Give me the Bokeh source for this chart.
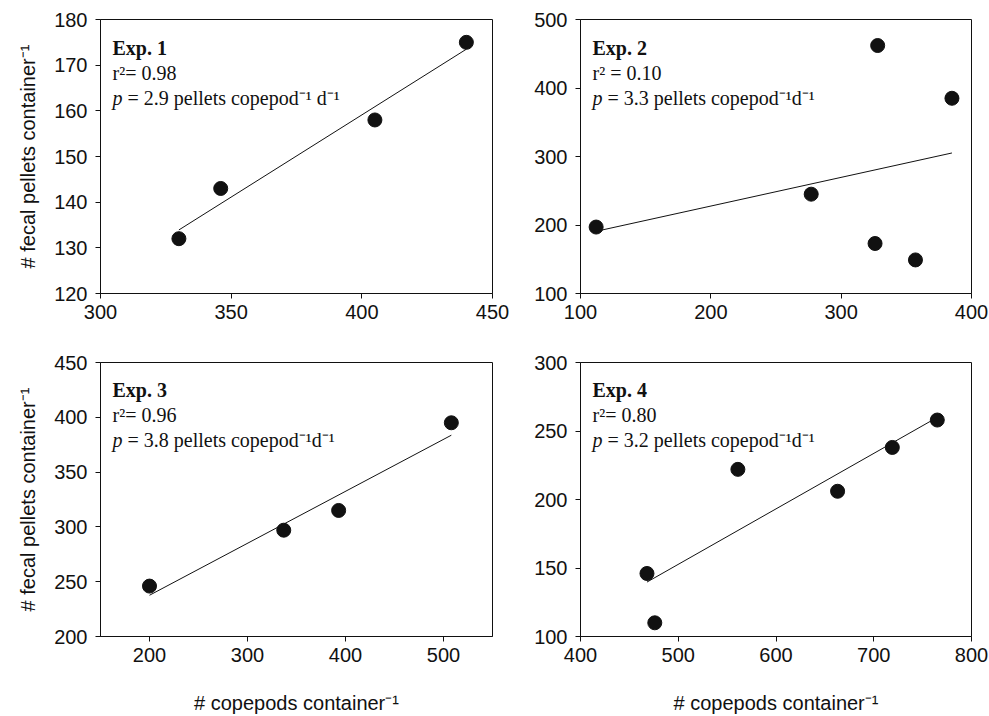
import numpy as np
from bokeh.plotting import figure
from bokeh.layouts import gridplot
from bokeh.models import Label, FixedTicker, Range1d
from bokeh.embed import file_html
from bokeh.resources import INLINE

# ---- data ----
exp1_x = [330, 346, 405, 440]
exp1_y = [132, 143, 158, 175]
exp2_x = [112, 277, 328, 326, 357, 385]
exp2_y = [197, 245, 462, 173, 149, 385]
exp3_x = [200, 337, 393, 508]
exp3_y = [246, 297, 315, 395]
exp4_x = [468, 476, 561, 663, 719, 765]
exp4_y = [146, 110, 222, 206, 238, 258]

titles = ["Exp. 1", "Exp. 2", "Exp. 3", "Exp. 4"]
r2_texts = ["r\u00b2= 0.98", "r\u00b2 = 0.10", "r\u00b2= 0.96", "r\u00b2= 0.80"]
p_texts = ["\u00a0= 2.9 pellets copepod\u207b\u00b9 d\u207b\u00b9",
           "\u00a0= 3.3 pellets copepod\u207b\u00b9d\u207b\u00b9",
           "\u00a0= 3.8 pellets copepod\u207b\u00b9d\u207b\u00b9",
           "\u00a0= 3.2 pellets copepod\u207b\u00b9d\u207b\u00b9"]

x_ranges = [(300, 450), (100, 400), (150, 550), (400, 800)]
y_ranges = [(120, 180), (100, 500), (200, 450), (100, 300)]
x_ticks = [[300, 350, 400, 450], [100, 200, 300, 400], [200, 300, 400, 500], [400, 500, 600, 700, 800]]
y_ticks = [[120, 130, 140, 150, 160, 170, 180], [100, 200, 300, 400, 500],
           [200, 250, 300, 350, 400, 450], [100, 150, 200, 250, 300]]

y_title = "# fecal pellets container\u207b\u00b9"
x_title = "# copepods container\u207b\u00b9"

SANS = "Liberation Sans"
SERIF = "Liberation Serif"
INK = "#111111"


def panel(i, xs, ys, width, height, bl, br, bt, bb, ylab, xlab):
    p = figure(width=width, height=height,
               x_range=Range1d(*x_ranges[i]), y_range=Range1d(*y_ranges[i]),
               min_border_left=bl, min_border_right=br, min_border_top=bt, min_border_bottom=bb,
               output_backend="svg", toolbar_location=None)
    p.xgrid.visible = False
    p.ygrid.visible = False
    p.outline_line_color = INK
    p.outline_line_alpha = 1.0
    p.outline_line_width = 1
    p.background_fill_color = "white"
    p.border_fill_color = "white"
    p.xaxis.ticker = FixedTicker(ticks=x_ticks[i])
    p.yaxis.ticker = FixedTicker(ticks=y_ticks[i])
    for ax in (p.xaxis[0], p.yaxis[0]):
        ax.axis_line_color = INK
        ax.major_tick_line_color = INK
        ax.major_tick_in = 0
        ax.major_tick_out = 5
        ax.minor_tick_line_color = None
        ax.major_label_text_font = SANS
        ax.major_label_text_font_size = "20px"
        ax.major_label_text_color = INK
        ax.axis_label_text_font = SANS
        ax.axis_label_text_font_size = "20px"
        ax.axis_label_text_font_style = "normal"
        ax.axis_label_text_color = INK
    p.yaxis.major_label_standoff = 8
    p.xaxis.major_label_standoff = 6
    if ylab:
        p.yaxis.axis_label = y_title
        p.yaxis.axis_label_standoff = 12
    if xlab:
        p.xaxis.axis_label = x_title
        p.xaxis.axis_label_standoff = 27

    # regression line (least squares through the data)
    slope, icpt = np.polyfit(xs, ys, 1)
    lx = np.array([min(xs), max(xs)])
    p.line(lx, slope * lx + icpt, line_color=INK, line_width=1.0)
    p.scatter(xs, ys, size=14, marker="circle", fill_color=INK, line_color=INK)

    fh = height - bt - bb
    p.add_layout(Label(x=12, y=fh - 28, x_units="screen", y_units="screen", text=titles[i],
                       text_font=SERIF, text_font_style="bold", text_font_size="20px",
                       text_color=INK, text_baseline="alphabetic"))
    p.add_layout(Label(x=12, y=fh - 53, x_units="screen", y_units="screen", text=r2_texts[i],
                       text_font=SERIF, text_font_size="20px",
                       text_color=INK, text_baseline="alphabetic"))
    p.add_layout(Label(x=12, y=fh - 78, x_units="screen", y_units="screen", text="p",
                       text_font=SERIF, text_font_style="italic", text_font_size="20px",
                       text_color=INK, text_baseline="alphabetic"))
    p.add_layout(Label(x=22, y=fh - 78, x_units="screen", y_units="screen", text=p_texts[i],
                       text_font=SERIF, text_font_size="20px",
                       text_color=INK, text_baseline="alphabetic"))
    return p


p1 = panel(0, exp1_x, exp1_y, 522, 330, 100, 30, 19, 37, True, False)
p2 = panel(1, exp2_x, exp2_y, 467, 330, 57, 18, 19, 37, False, False)
p3 = panel(2, exp3_x, exp3_y, 522, 386, 100, 30, 32, 79, True, True)
p4 = panel(3, exp4_x, exp4_y, 467, 386, 58, 18, 32, 79, False, True)

grid = gridplot([[p1, p2], [p3, p4]], toolbar_location=None)

open("out.html", "w").write(file_html(grid, INLINE))
